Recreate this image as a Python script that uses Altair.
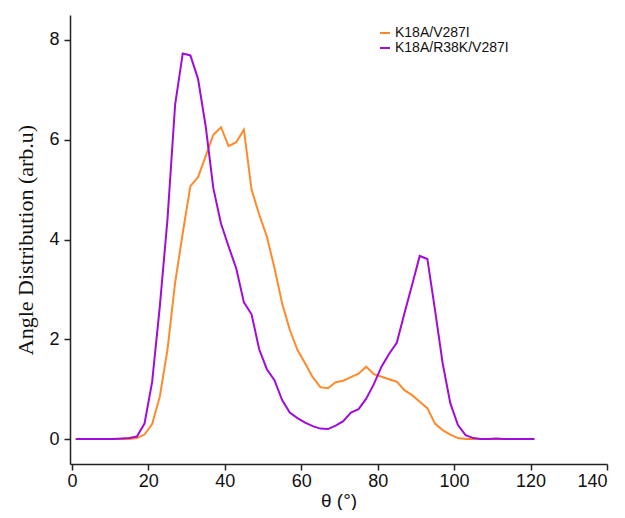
import altair as alt
import pandas as pd

theta = list(range(1, 123, 2))  # 1..121

orange_vals = [0, 0, 0, 0, 0, 0, 0, 0, 0.02, 0.09,
               0.30, 0.85, 1.79, 3.13, 4.13, 5.07, 5.25, 5.67, 6.10, 6.25,
               5.87, 5.95, 6.20, 5.00, 4.50, 4.06, 3.43, 2.72, 2.19, 1.79,
               1.52, 1.24, 1.04, 1.02, 1.14, 1.17, 1.24, 1.31, 1.45, 1.30,
               1.25, 1.20, 1.15, 0.98, 0.88, 0.75, 0.62, 0.31, 0.18, 0.09,
               0.02, 0.0, 0.0, 0, 0, 0, 0, 0, 0, 0, 0]

purple_vals = [0, 0, 0, 0, 0, 0, 0.01, 0.02, 0.05, 0.31,
               1.15, 2.66, 4.40, 6.70, 7.73, 7.69, 7.22, 6.27, 5.03, 4.32,
               3.86, 3.42, 2.74, 2.50, 1.80, 1.40, 1.18, 0.78, 0.53, 0.42,
               0.33, 0.26, 0.21, 0.20, 0.27, 0.36, 0.53, 0.60, 0.81, 1.10,
               1.45, 1.71, 1.93, 2.52, 3.09, 3.67, 3.61, 2.59, 1.52, 0.72,
               0.28, 0.08, 0.02, 0.0, 0.0, 0.01, 0.0, 0, 0, 0, 0]

series_names = ["K18A/V287I", "K18A/R38K/V287I"]
series_colors = ["#FF8A2B", "#A00CD8"]

rows = []
for name, vals in zip(series_names, [orange_vals, purple_vals]):
    for t, v in zip(theta, vals):
        rows.append({"theta": t, "value": v, "series": name})
df = pd.DataFrame(rows)

chart = alt.Chart(df).mark_line(strokeWidth=2, interpolate="linear").encode(
    x=alt.X("theta:Q",
            scale=alt.Scale(domain=[-0.5, 140], nice=False, zero=False),
            axis=alt.Axis(values=[0, 20, 40, 60, 80, 100, 120, 140],
                          title="θ (°)", grid=False, titlePadding=1,
                          labelPadding=2, titleFontSize=19)),
    y=alt.Y("value:Q",
            scale=alt.Scale(domain=[-0.5, 8.5], nice=False, zero=False),
            axis=alt.Axis(values=[0, 2, 4, 6, 8],
                          title="Angle Distribution (arb.u)", grid=False,
                          titleFont="Liberation Serif", titleFontSize=22,
                          titlePadding=11, labelPadding=5)),
    color=alt.Color("series:N",
                    scale=alt.Scale(domain=series_names, range=series_colors),
                    legend=alt.Legend(title=None, orient="none",
                                      legendX=308, legendY=11,
                                      symbolType="stroke", symbolSize=100,
                                      symbolStrokeWidth=2,
                                      labelFontSize=14, labelFont="Liberation Sans",
                                      labelColor="#111111",
                                      rowPadding=1, labelOffset=3)),
    order=alt.Order("theta:Q"),
).properties(
    width=537,
    height=449,
    background="white",
    autosize=alt.AutoSizeParams(type="none"),
    padding={"left": 62, "top": 7, "right": 10, "bottom": 46},
).configure_view(
    stroke=None
).configure_axis(
    domainColor="#222222",
    domainWidth=1.5,
    tickColor="#222222",
    tickWidth=1.5,
    tickSize=6,
    labelFont="Liberation Sans",
    labelFontSize=18,
    labelColor="#111111",
    titleFont="Liberation Sans",
    titleFontWeight="normal",
    titleColor="#111111",
)

chart.save("out.html", embed_options={"renderer": "svg", "actions": False})
